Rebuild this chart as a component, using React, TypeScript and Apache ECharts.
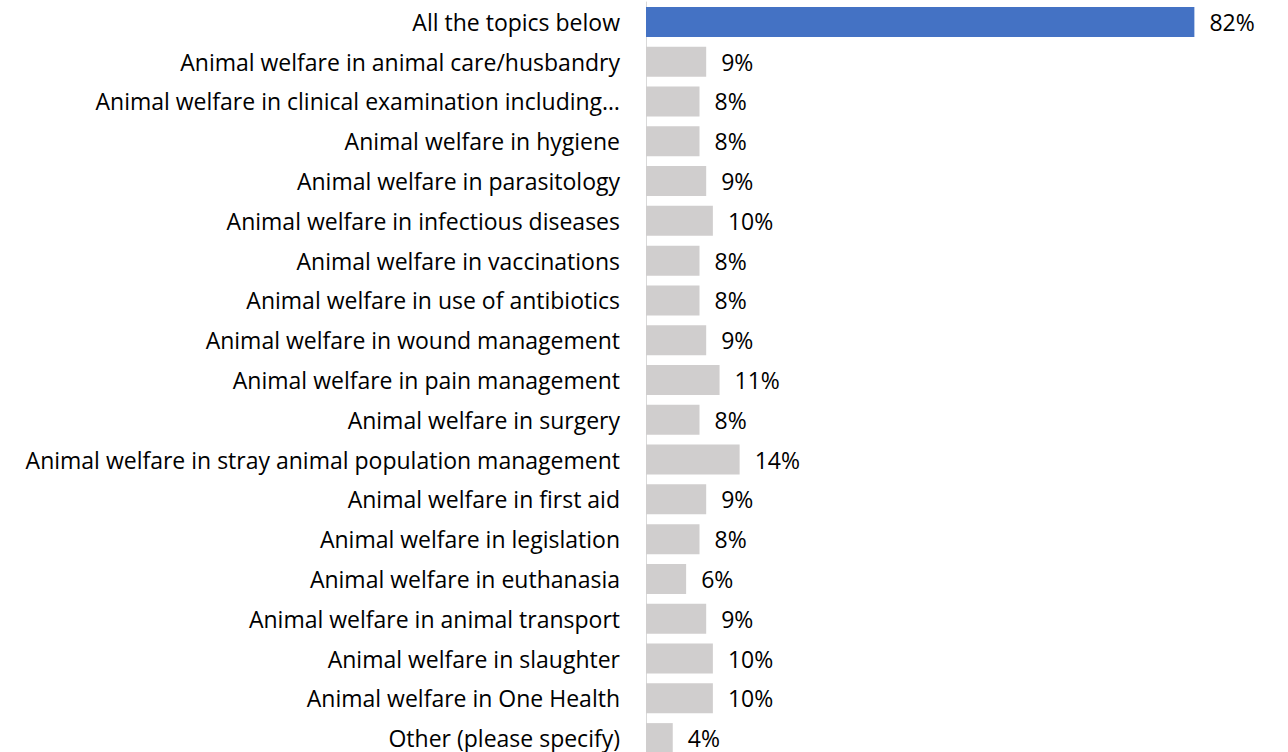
import React, { useEffect, useRef } from "react";
import * as echarts from "echarts";

const categories = [
  "All the topics below",
  "Animal welfare in animal care/husbandry",
  "Animal welfare in clinical examination including…",
  "Animal welfare in hygiene",
  "Animal welfare in parasitology",
  "Animal welfare in infectious diseases",
  "Animal welfare in vaccinations",
  "Animal welfare in use of antibiotics",
  "Animal welfare in wound management",
  "Animal welfare in pain management",
  "Animal welfare in surgery",
  "Animal welfare in stray animal population management",
  "Animal welfare in first aid",
  "Animal welfare in legislation",
  "Animal welfare in euthanasia",
  "Animal welfare in animal transport",
  "Animal welfare in slaughter",
  "Animal welfare in One Health",
  "Other (please specify)",
];

const values = [82, 9, 8, 8, 9, 10, 8, 8, 9, 11, 8, 14, 9, 8, 6, 9, 10, 10, 4];

const highlightColor = "#4472C4";
const baseColor = "#D0CECE";
const FONT = "Open Sans";

export default function App() {
  const ref = useRef<HTMLDivElement>(null);
  useEffect(() => {
    document.body.style.margin = "0";
    document.body.style.overflow = "hidden";
    document.documentElement.style.overflow = "hidden";
    const chart = echarts.init(ref.current!, undefined, { renderer: "svg" });
    chart.setOption({
      animation: false,
      grid: { left: 646, top: 2, right: 0, height: 756, containLabel: false },
      xAxis: {
        type: "value",
        min: 0,
        max: 96,
        show: false,
      },
      yAxis: {
        type: "category",
        inverse: true,
        data: categories,
        axisLine: { show: true, lineStyle: { color: "#D9D9D9", width: 1 } },
        axisTick: { show: false },
        axisLabel: {
          margin: 26,
          color: "#000",
          fontSize: 23,
          fontFamily: FONT,
        },
      },
      series: [
        {
          type: "bar",
          barWidth: 30,
          data: values.map((v, i) => ({
            value: v,
            itemStyle: { color: i === 0 ? highlightColor : baseColor },
          })),
          label: {
            show: true,
            position: "right",
            distance: 15,
            formatter: "{c}%",
            color: "#000",
            fontSize: 23,
            fontFamily: FONT,
          },
        },
      ],
    });
    return () => chart.dispose();
  }, []);
  return <div ref={ref} style={{ width: 1288, height: 760 }} />;
}
